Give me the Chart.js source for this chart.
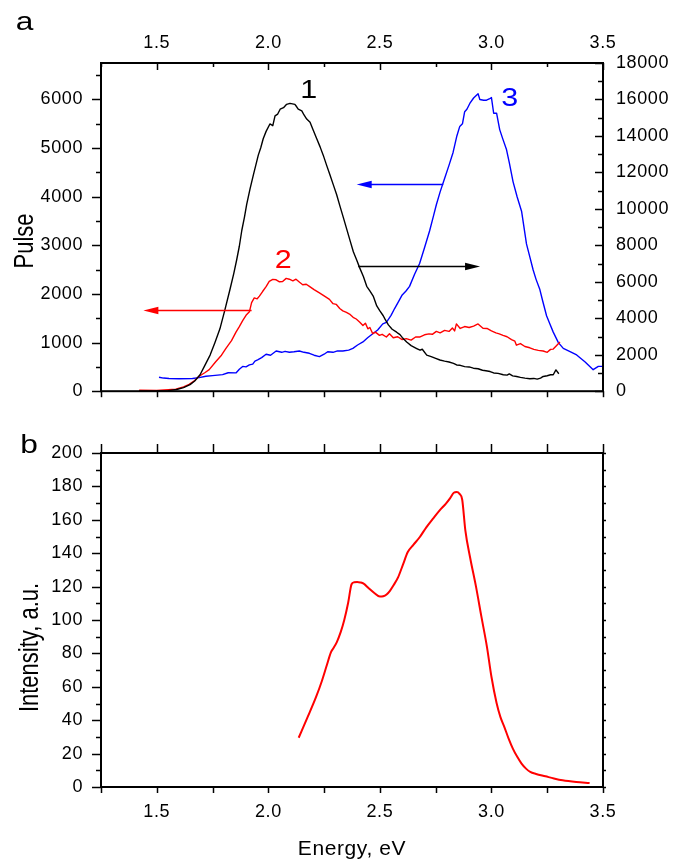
<!DOCTYPE html>
<html>
<head>
<meta charset="utf-8">
<title>Pulse and intensity spectra</title>
<script src="https://cdn.jsdelivr.net/npm/chart.js@4.4.1/dist/chart.umd.min.js"></script>
<style>
  html, body { margin: 0; padding: 0; background: #fff; }
  #wrap { position: relative; width: 680px; height: 862px; }
  canvas { position: absolute; left: 0; }
  #topChart { top: 0; }
  #bottomChart { top: 420px; }
</style>
</head>
<body>
<div id="wrap">
  <canvas id="topChart" width="680" height="420"></canvas>
  <canvas id="bottomChart" width="680" height="442"></canvas>
</div>
<script>
// Panel a, curve 1 (black, right axis)
const curve1E = [1.42, 1.50, 1.55, 1.589, 1.62, 1.649, 1.67, 1.694, 1.715, 1.739, 1.76, 1.783, 1.805, 1.828, 1.845, 1.858, 1.87, 1.881, 1.893, 1.903,
  1.918, 1.933, 1.945, 1.955, 1.966, 1.977, 1.99, 2.007, 2.02, 2.03, 2.042, 2.053, 2.068, 2.082, 2.097, 2.108, 2.119, 2.127, 2.134, 2.15,
  2.16, 2.172, 2.187, 2.20, 2.217, 2.232, 2.246, 2.261, 2.276, 2.291, 2.306, 2.321, 2.336, 2.351, 2.366, 2.381, 2.396, 2.41, 2.426, 2.441,
  2.455, 2.47, 2.486, 2.50, 2.515, 2.523, 2.538, 2.555, 2.575, 2.59, 2.60, 2.62, 2.64, 2.665, 2.68, 2.69, 2.71, 2.73, 2.75, 2.769,
  2.79, 2.81, 2.83, 2.844, 2.86, 2.88, 2.90, 2.919, 2.94, 2.96, 2.975, 2.994, 3.01, 3.03, 3.053, 3.07, 3.08, 3.095, 3.113, 3.13,
  3.15, 3.172, 3.19, 3.205, 3.22, 3.232, 3.25, 3.265, 3.277, 3.289, 3.302];
const curve1Pulse = [0, 10, 30, 92, 200, 361, 560, 901, 1400, 1980, 2650, 3420, 4450, 5577, 6450, 7196, 7950, 8813, 9550, 10249,
  11100, 11867, 12450, 12946, 13350, 13846, 14250, 14656, 14564, 15103, 15200, 15465, 15550, 15734, 15788, 15760, 15734, 15600, 15465, 15373,
  15150, 14925, 14747, 14350, 13846, 13400, 12946, 12400, 11867, 11330, 10788, 10150, 9531, 8900, 8274, 7650, 7196, 6750, 6295, 5755,
  5500, 5216, 4677, 4400, 4137, 3950, 3636, 3400, 3236, 3100, 2950, 2697, 2500, 2341, 2250, 2300, 1980, 1900, 1800, 1710,
  1650, 1600, 1530, 1440, 1420, 1350, 1330, 1262, 1230, 1150, 1120, 1079, 1000, 980, 900, 880, 950, 840, 809, 760,
  720, 685, 700, 660, 720, 809, 850, 900, 900, 1170, 955];

// Panel a, curve 2 (red, left axis)
const curve2E = [1.421, 1.50, 1.585, 1.62, 1.645, 1.67, 1.69, 1.715, 1.735, 1.765, 1.79, 1.81, 1.835, 1.855, 1.87, 1.885, 1.90, 1.915, 1.925, 1.937,
  1.95, 1.96, 1.975, 1.99, 2.004, 2.02, 2.035, 2.05, 2.064, 2.08, 2.094, 2.11, 2.124, 2.14, 2.154, 2.17, 2.184, 2.205, 2.229, 2.25,
  2.274, 2.29, 2.304, 2.32, 2.334, 2.35, 2.364, 2.38, 2.394, 2.41, 2.424, 2.435, 2.446, 2.455, 2.468, 2.48, 2.498, 2.51, 2.529, 2.543,
  2.56, 2.58, 2.60, 2.618, 2.64, 2.66, 2.678, 2.70, 2.72, 2.735, 2.753, 2.77, 2.79, 2.81, 2.825, 2.835, 2.843, 2.86, 2.88, 2.90,
  2.92, 2.94, 2.962, 2.98, 3.00, 3.02, 3.035, 3.052, 3.07, 3.09, 3.105, 3.112, 3.13, 3.15, 3.172, 3.19, 3.21, 3.232, 3.25, 3.265,
  3.277, 3.29, 3.307];
const curve2Pulse = [20, 15, 40, 90, 141, 220, 308, 380, 443, 611, 740, 880, 1040, 1215, 1330, 1451, 1560, 1632, 1820, 1920,
  1900, 1955, 2055, 2150, 2257, 2300, 2291, 2250, 2257, 2320, 2303, 2270, 2303, 2240, 2190, 2200, 2156, 2090, 2021, 1960,
  1888, 1800, 1787, 1700, 1652, 1620, 1586, 1520, 1485, 1420, 1350, 1400, 1283, 1310, 1183, 1215, 1149, 1170, 1114, 1183,
  1100, 1120, 1060, 1082, 1050, 1114, 1114, 1160, 1180, 1170, 1229, 1200, 1250, 1230, 1300, 1240, 1384, 1290, 1330, 1310,
  1340, 1384, 1296, 1290, 1240, 1200, 1180, 1149, 1120, 1060, 1028, 947, 980, 920, 893, 860, 840, 826, 800, 860,
  866, 930, 1013];

// Panel a, curve 3 (blue, left axis)
const curve3E = [1.51, 1.53, 1.555, 1.60, 1.66, 1.69, 1.72, 1.75, 1.795, 1.82, 1.855, 1.87, 1.885, 1.90, 1.915, 1.93, 1.94, 1.952, 1.97, 1.99,
  2.01, 2.035, 2.06, 2.075, 2.094, 2.115, 2.139, 2.16, 2.184, 2.205, 2.229, 2.25, 2.266, 2.29, 2.31, 2.334, 2.36, 2.379, 2.40, 2.424,
  2.445, 2.468, 2.49, 2.513, 2.529, 2.55, 2.566, 2.581, 2.60, 2.617, 2.633, 2.655, 2.678, 2.70, 2.723, 2.74, 2.753, 2.77, 2.79, 2.81,
  2.828, 2.845, 2.858, 2.87, 2.88, 2.89, 2.903, 2.92, 2.94, 2.948, 2.965, 2.978, 2.99, 3.00, 3.01, 3.023, 3.037, 3.05, 3.067, 3.08,
  3.097, 3.115, 3.135, 3.157, 3.17, 3.187, 3.20, 3.217, 3.23, 3.247, 3.262, 3.277, 3.30, 3.322, 3.35, 3.382, 3.42, 3.456, 3.479, 3.50];
const curve3Pulse = [288, 270, 262, 255, 262, 280, 308, 320, 342, 380, 376, 450, 510, 500, 540, 558, 620, 645, 690, 760,
  740, 826, 800, 820, 800, 810, 826, 800, 780, 740, 711, 760, 812, 800, 830, 826, 846, 880, 950, 1013,
  1100, 1183, 1260, 1384, 1417, 1560, 1700, 1820, 1980, 2060, 2156, 2400, 2626, 2950, 3299, 3600, 3834, 4100, 4373, 4650,
  4910, 5250, 5446, 5500, 5749, 5800, 5918, 6030, 6120, 6000, 5985, 5985, 6010, 6039, 5717, 5717, 5380, 5200, 4977, 4700,
  4306, 4000, 3702, 3029, 2800, 2493, 2300, 2090, 1850, 1552, 1380, 1215, 1000, 880, 820, 745, 600, 443, 510, 510];

// Panel b
const spectrumE = [2.136, 2.175, 2.214, 2.240, 2.262, 2.280, 2.290, 2.307, 2.325, 2.340, 2.358, 2.373, 2.385, 2.398, 2.412, 2.427, 2.450, 2.475, 2.500, 2.515,
  2.530, 2.545, 2.562, 2.582, 2.603, 2.625, 2.650, 2.679, 2.708, 2.738, 2.767, 2.796, 2.815, 2.831, 2.844, 2.857, 2.869, 2.883, 2.905, 2.931,
  2.955, 2.980, 3.000, 3.023, 3.040, 3.058, 3.077, 3.096, 3.115, 3.135, 3.155, 3.174, 3.200, 3.242, 3.280, 3.319, 3.380, 3.440];
const spectrumIntensity = [29.5, 41.5, 53.9, 63.5, 72.9, 80.5, 82.8, 86.8, 93, 99.8, 110.5, 121.4, 122.6, 122.8, 122.5, 121.8, 119, 116.2, 114, 114.2,
  115.3, 117.5, 121, 125.7, 133, 140.7, 145, 149.7, 155.5, 160.7, 165.5, 169.7, 173, 176.2, 176.6, 175.5, 172, 153.7, 137, 119.8,
  102, 83.8, 66, 50.3, 42, 35.9, 29, 23, 18.2, 14, 11, 9, 7.8, 6.4, 5.1, 4, 3, 2.4];

// Axis ticks
const energyTicks = [1.5, 2.0, 2.5, 3.0, 3.5];
const pulseTicks = [0, 1000, 2000, 3000, 4000, 5000, 6000];
const pulseRightTicks = [0, 2000, 4000, 6000, 8000, 10000, 12000, 14000, 16000, 18000];
const intensityTicks = [0, 20, 40, 60, 80, 100, 120, 140, 160, 180, 200];

// Arrows pointing to the axis each curve belongs to
const arrowFromE = [1.925, 2.784, 2.403];
const arrowToE = [1.440, 2.396, 2.949];
const arrowLevel = [1673, 4268, 6872];
const arrowAxis = ['y', 'y', 'y2'];
const arrowColors = ['#ff0000', '#0000ff', '#000000'];

// Curve numbers
const curveNames = ['1', '2', '3'];
const curveNameE = [2.181, 2.067, 3.082];
const curveNameLevel = [16587, 2725, 6046];
const curveNameAxis = ['y2', 'y', 'y'];
const curveNameColors = ['#000000', '#ff0000', '#0000ff'];

const FONT = "'Liberation Sans', Arial, Helvetica, sans-serif";
const STRETCH = 1.22;
Chart.defaults.font.family = FONT;
Chart.defaults.color = '#000';

const halves = (ticks, min, max) => {
  const step = ticks[1] - ticks[0];
  const out = [];
  for (let v = ticks[0] - step / 2; v <= max + 1e-9; v += step) {
    if (v >= min - 1e-9) out.push(v);
  }
  return out;
};
const energyMinor = halves(energyTicks, 1.25, 3.5);
const pulseMinor = halves(pulseTicks, 0, 6750);
const pulseRightMinor = halves(pulseRightTicks, 0, 18000);
const intensityMinor = halves(intensityTicks, 0, 200);

const toPoints = (xs, ys) => xs.map((x, i) => ({ x, y: ys[i] }));
const setTicks = (values) => (scale) => { scale.ticks = values.map((value) => ({ value })); };

function stretchedText(ctx, text, x, y, size, color, rotate) {
  ctx.save();
  ctx.translate(x, y);
  ctx.scale(STRETCH, 1);
  if (rotate) ctx.rotate(-Math.PI / 2);
  ctx.letterSpacing = '0px';
  ctx.font = `${size}px ${FONT}`;
  ctx.fillStyle = color;
  ctx.textAlign = 'center';
  ctx.textBaseline = 'alphabetic';
  ctx.fillText(text, 0, 0);
  ctx.restore();
}

// box + minor/major tick marks on all four sides
const framePlugin = {
  id: 'frame',
  beforeDraw(chart) {
    chart.ctx.letterSpacing = '0.6px';
  },
  afterDraw(chart, args, opts) {
    const { ctx, chartArea: a, scales } = chart;
    ctx.save();
    ctx.strokeStyle = '#000';
    ctx.lineWidth = 1.5;
    (opts.sides || []).forEach((side) => {
      const scale = scales[side.scale];
      side.marks.forEach(([values, len, dir]) => {
        const s = dir === 'in' ? 1 : -1;
        values.forEach((v) => {
          const p = Math.round(scale.getPixelForValue(v)) + 0.5;
          ctx.beginPath();
          if (side.edge === 'top') { ctx.moveTo(p, a.top); ctx.lineTo(p, a.top + s * len); }
          if (side.edge === 'bottom') { ctx.moveTo(p, a.bottom); ctx.lineTo(p, a.bottom - s * len); }
          if (side.edge === 'left') { ctx.moveTo(a.left, p); ctx.lineTo(a.left + s * len, p); }
          if (side.edge === 'right') { ctx.moveTo(a.right, p); ctx.lineTo(a.right - s * len, p); }
          ctx.stroke();
        });
      });
    });
    ctx.lineWidth = 2;
    ctx.strokeRect(a.left, a.top, a.right - a.left, a.bottom - a.top);
    (opts.texts || []).forEach((t) => stretchedText(ctx, t.text, t.x, t.y, t.size, '#000', t.rotate));
    ctx.restore();
  }
};

// arrows and curve numbers of panel a
const markersPlugin = {
  id: 'markers',
  afterDatasetsDraw(chart) {
    const { ctx, scales } = chart;
    ctx.save();
    arrowFromE.forEach((from, i) => {
      const x0 = scales.x.getPixelForValue(from);
      const x1 = scales.x.getPixelForValue(arrowToE[i]);
      const y = Math.round(scales[arrowAxis[i]].getPixelForValue(arrowLevel[i])) + 0.5;
      const dir = Math.sign(x1 - x0);
      ctx.strokeStyle = arrowColors[i];
      ctx.fillStyle = arrowColors[i];
      ctx.lineWidth = 1.5;
      ctx.beginPath();
      ctx.moveTo(x0, y);
      ctx.lineTo(x1 - dir * 10, y);
      ctx.stroke();
      ctx.beginPath();
      ctx.moveTo(x1, y);
      ctx.lineTo(x1 - dir * 15, y - 3.8);
      ctx.lineTo(x1 - dir * 15, y + 3.8);
      ctx.closePath();
      ctx.fill();
    });
    curveNames.forEach((name, i) => {
      const x = scales.x.getPixelForValue(curveNameE[i]);
      const y = scales[curveNameAxis[i]].getPixelForValue(curveNameLevel[i]);
      stretchedText(ctx, name, x, y + 9, 25, curveNameColors[i], false);
    });
    ctx.restore();
  }
};

const tickFont = { family: FONT, size: 18 };
const lineStyle = { pointRadius: 0, borderJoinStyle: 'round', tension: 0 };
const noGrid = { display: false, drawTicks: false };

new Chart(document.getElementById('topChart'), {
  type: 'line',
  data: {
    datasets: [
      { ...lineStyle, label: '1', data: toPoints(curve1E, curve1Pulse), yAxisID: 'y2', borderColor: '#000000', borderWidth: 1.4 },
      { ...lineStyle, label: '2', data: toPoints(curve2E, curve2Pulse), yAxisID: 'y', borderColor: '#ff0000', borderWidth: 1.4 },
      { ...lineStyle, label: '3', data: toPoints(curve3E, curve3Pulse), yAxisID: 'y', borderColor: '#0000ff', borderWidth: 1.4 }
    ]
  },
  options: {
    responsive: false,
    devicePixelRatio: 1,
    animation: false,
    layout: { padding: { top: 0, right: 0, bottom: 23.3, left: 0 } },
    plugins: {
      legend: { display: false },
      tooltip: { enabled: false },
      frame: {
        sides: [
          { edge: 'top', scale: 'x', marks: [[energyTicks, 7, 'in'], [energyMinor, 4, 'in']] },
          { edge: 'bottom', scale: 'x', marks: [[energyTicks, 6, 'out'], [energyMinor, 6, 'out']] },
          { edge: 'left', scale: 'y', marks: [[pulseTicks, 9, 'out'], [pulseMinor, 5, 'out']] },
          { edge: 'right', scale: 'y2', marks: [[pulseRightTicks, 8, 'in'], [pulseRightMinor, 5, 'in']] }
        ],
        texts: [
          { text: 'a', x: 24.5, y: 29.5, size: 26 },
          { text: 'Pulse', x: 32.5, y: 241, size: 22, rotate: true }
        ]
      }
    },
    scales: {
      x: {
        type: 'linear', position: 'top', min: 1.25, max: 3.5,
        afterBuildTicks: setTicks(energyTicks),
        afterFit: (scale) => { scale.height = 63; },
        grid: noGrid, border: { display: false },
        ticks: { font: tickFont, color: '#000', padding: 9.5, maxRotation: 0, autoSkip: false, callback: (v) => v.toFixed(1) }
      },
      y: {
        type: 'linear', position: 'left', min: 0, max: 6750,
        afterBuildTicks: setTicks(pulseTicks),
        afterFit: (scale) => { scale.width = 101; },
        grid: noGrid, border: { display: false },
        ticks: { font: tickFont, color: '#000', padding: 18, autoSkip: false, callback: (v) => String(v) }
      },
      y2: {
        type: 'linear', position: 'right', min: 0, max: 18000,
        afterBuildTicks: setTicks(pulseRightTicks),
        afterFit: (scale) => { scale.width = 77; },
        grid: noGrid, border: { display: false },
        ticks: { font: tickFont, color: '#000', padding: 13, autoSkip: false, callback: (v) => String(v) }
      }
    }
  },
  plugins: [framePlugin, markersPlugin]
});

new Chart(document.getElementById('bottomChart'), {
  type: 'line',
  data: {
    datasets: [
      { pointRadius: 0, label: 'Intensity', data: toPoints(spectrumE, spectrumIntensity), borderColor: '#ff0000', borderWidth: 2, cubicInterpolationMode: 'monotone' }
    ]
  },
  options: {
    responsive: false,
    devicePixelRatio: 1,
    animation: false,
    layout: { padding: { top: 33, right: 77, bottom: 0, left: 0 } },
    plugins: {
      legend: { display: false },
      tooltip: { enabled: false },
      frame: {
        sides: [
          { edge: 'top', scale: 'x', marks: [[energyTicks, 9, 'out'], [energyMinor, 9, 'out']] },
          { edge: 'bottom', scale: 'x', marks: [[energyTicks, 6, 'out'], [energyMinor, 6, 'out']] },
          { edge: 'left', scale: 'y', marks: [[intensityTicks, 9, 'out'], [intensityMinor, 5, 'out']] },
          { edge: 'right', scale: 'y', marks: [[intensityTicks, 3, 'out'], [intensityMinor, 3, 'out']] }
        ],
        texts: [
          { text: 'b', x: 29, y: 32.7, size: 26 },
          { text: 'Intensity, a.u.', x: 38, y: 227.5, size: 22, rotate: true }
        ]
      }
    },
    scales: {
      x: {
        type: 'linear', position: 'bottom', min: 1.25, max: 3.5,
        afterBuildTicks: setTicks(energyTicks),
        afterFit: (scale) => { scale.height = 75; },
        grid: noGrid, border: { display: false },
        ticks: { font: tickFont, color: '#000', padding: 14, maxRotation: 0, autoSkip: false, callback: (v) => v.toFixed(1) },
        title: { display: true, text: 'Energy, eV', color: '#000', font: { family: FONT, size: 21 }, padding: { top: 0, bottom: 0 } }
      },
      y: {
        type: 'linear', position: 'left', min: 0, max: 200,
        afterBuildTicks: setTicks(intensityTicks),
        afterFit: (scale) => { scale.width = 101; },
        grid: noGrid, border: { display: false },
        ticks: { font: tickFont, color: '#000', padding: 18, autoSkip: false, callback: (v) => String(v) }
      }
    }
  },
  plugins: [framePlugin]
});
</script>
</body>
</html>
